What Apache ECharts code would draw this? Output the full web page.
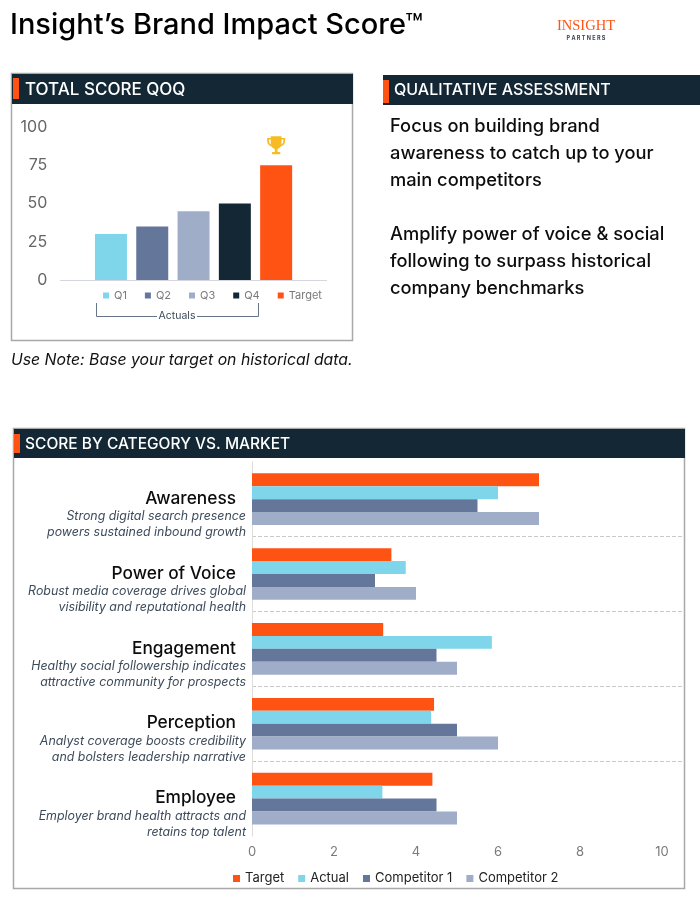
<!DOCTYPE html>
<html>
<head>
<meta charset="utf-8">
<title>Insight's Brand Impact Score</title>
<script src="https://cdn.jsdelivr.net/npm/echarts@6/dist/echarts.min.js"></script>
<style>
  html, body { margin: 0; padding: 0; background: #fff; }
  #main { width: 700px; height: 900px; }
</style>
</head>
<body>
<div id="main"></div>
<script>
//****************************** Data *************************************//
const quarterLabels = ["Q1", "Q2", "Q3", "Q4", "Target"];
const quarterScores = [30, 35, 45, 50, 75];

const categories = ["Awareness", "Power of Voice", "Engagement", "Perception", "Employee"];
const categoryNotes = [
  ["Strong digital search presence", "powers sustained inbound growth"],
  ["Robust media coverage drives global", "visibility and reputational health"],
  ["Healthy social followership indicates", "attractive community for prospects"],
  ["Analyst coverage boosts credibility", "and bolsters leadership narrative"],
  ["Employer brand health attracts and", "retains top talent"],
];
const marketSeriesNames = ["Target", "Actual", "Competitor 1", "Competitor 2"];
const targetValues = [7, 3.4, 3.2, 4.44, 4.4];
const actualValues = [6, 3.75, 5.85, 4.37, 3.18];
const competitor1Values = [5.5, 3, 4.5, 5, 4.5];
const competitor2Values = [7, 4, 5, 6, 5];

const assessmentLines = [
  "Focus on building brand",
  "awareness to catch up to your",
  "main competitors",
  "",
  "Amplify power of voice & social",
  "following to surpass historical",
  "company benchmarks",
];

//****************************** Colors *************************************//
const ORANGE = "#FF5314";
const CYAN = "#7FD6EA";
const SLATE = "#64779B";
const LIGHT = "#A0ADC8";
const NAVY = "#132735";
const FONT = "Inter, 'Open Sans', sans-serif";

const quarterColors = [CYAN, SLATE, LIGHT, NAVY, ORANGE];
const marketColors = [ORANGE, CYAN, SLATE, LIGHT];
const marketValues = [targetValues, actualValues, competitor1Values, competitor2Values];

const TROPHY =
  "path://M6 2H18V4H22V7C22 10.5 20 12.6 17 13.2C16.2 14.6 15 15.5 13.5 15.8V19H16.5V21.5H7.5V19H10.5V15.8C9 15.5 7.8 14.6 7 13.2C4 12.6 2 10.5 2 7V4H6V2Z" +
  "M4 5.5V7C4 9 5 10.4 6.3 11C6.1 10.2 6 9.4 6 8.5V5.5H4Z" +
  "M20 5.5H18V8.5C18 9.4 17.9 10.2 17.7 11C19 10.4 20 9 20 7V5.5Z";

//****************************** Graphic helpers *************************************//
function textEl(x, y, text, fontSize, fill, extra) {
  return {
    type: "text",
    x: x,
    y: y,
    silent: true,
    style: Object.assign(
      { text: text, fontSize: fontSize, fill: fill, fontFamily: FONT, verticalAlign: "middle" },
      extra || {}
    ),
  };
}

function rectEl(x, y, width, height, fill, stroke) {
  return {
    type: "rect",
    silent: true,
    shape: { x: x, y: y, width: width, height: height },
    style: { fill: fill, stroke: stroke || null, lineWidth: stroke ? 1.5 : 0 },
  };
}

function panelHeader(x, y, width, height, accentX, accentY, accentH, title, titleX, titleSize) {
  return [
    rectEl(x, y, width, height, NAVY),
    rectEl(accentX, accentY, 6, accentH, ORANGE),
    textEl(titleX, y + height / 2 + 0.5, title, titleSize, "#fff", { fontWeight: 500 }),
  ];
}

function bracketLine(points) {
  return {
    type: "polyline",
    silent: true,
    shape: { points: points },
    style: { fill: null, stroke: "#66758A", lineWidth: 1 },
  };
}

var graphics = [
  textEl(10, 25, "Insight\u2019s Brand Impact Score\u2122", 29, "#000", { fontWeight: 500 }),
  textEl(586, 26, "INSIGHT", 14.5, ORANGE, { fontFamily: "'Liberation Serif', serif", align: "center" }),
  textEl(586, 38, "P A R T N E R S", 5.5, "#3A4756", { fontWeight: 700, align: "center" }),

  rectEl(11.5, 73.5, 341, 267, "#fff", "#A8A8A8"),
  rectEl(13.5, 428.5, 671, 460, "#fff", "#A8A8A8"),

  bracketLine([[96.5, 303], [96.5, 316.5], [157, 316.5]]),
  bracketLine([[197, 316.5], [258.5, 316.5], [258.5, 303]]),
  textEl(177, 316, "Actuals", 10.5, "#3F4B5A", { align: "center" }),
  {
    type: "line",
    silent: true,
    z: 1,
    shape: { x1: 60, y1: 280.5, x2: 327, y2: 280.5 },
    style: { stroke: "#D5D7DC", lineWidth: 1 },
  },

  textEl(11, 360, "Use Note: Base your target on historical data.", 15.8, "#111", { fontStyle: "italic" }),
];

graphics = graphics.concat(
  panelHeader(12, 74, 341, 30, 13, 78, 21, "TOTAL SCORE QOQ", 25, 17),
  panelHeader(383, 75, 317, 30, 383, 80, 23, "QUALITATIVE ASSESSMENT", 394, 16),
  panelHeader(14, 429, 671, 29, 14, 434, 19, "SCORE BY CATEGORY VS. MARKET", 25, 15.5)
);

assessmentLines.forEach((line, i) => {
  if (line) {
    graphics.push(textEl(390, 127 + i * 27, line, 18.3, "#0C0C0C", { fontWeight: 500 }));
  }
});

//****************************** Series *************************************//
var quarterSeries = quarterLabels.map((label, i) => {
  var item = {
    name: label,
    type: "bar",
    stack: "score",
    barWidth: 32,
    xAxisIndex: 0,
    yAxisIndex: 0,
    itemStyle: { color: quarterColors[i] },
    data: quarterScores.map((v, j) => (j === i ? v : null)),
  };
  if (label === "Target") {
    item.markPoint = {
      silent: true,
      symbol: TROPHY,
      symbolSize: 18,
      symbolOffset: [0, -20],
      label: { show: false },
      itemStyle: { color: "#F7BC25" },
      data: [{ coord: [label, quarterScores[i]] }],
    };
  }
  return item;
});

var marketSeries = marketSeriesNames.map((name, i) => ({
  name: name,
  type: "bar",
  xAxisIndex: 1,
  yAxisIndex: 1,
  barGap: 0,
  barCategoryGap: "31%",
  itemStyle: { color: marketColors[i] },
  data: marketValues[i],
}));

//****************************** Chart *************************************//
var myChart = echarts.init(document.getElementById("main"));

var option = {
  animation: false,
  backgroundColor: "#fff",
  textStyle: { fontFamily: FONT },
  grid: [
    { left: 90.3, width: 206.5, top: 127, height: 153 },
    { left: 252, width: 430.5, top: 461.7, height: 374.3 },
  ],
  legend: [
    {
      data: quarterLabels,
      left: 103,
      top: 290,
      padding: 0,
      itemWidth: 6,
      itemHeight: 6,
      itemGap: 18,
      icon: "rect",
      selectedMode: false,
      textStyle: { fontSize: 11, color: "#7A7A7A", fontFamily: FONT },
    },
    {
      data: marketSeriesNames,
      left: 233,
      top: 872,
      padding: 0,
      itemWidth: 7,
      itemHeight: 7,
      itemGap: 14,
      icon: "rect",
      selectedMode: false,
      textStyle: { fontSize: 13, color: "#222", fontFamily: FONT },
    },
  ],
  xAxis: [
    {
      type: "category",
      gridIndex: 0,
      data: quarterLabels,
      axisLine: { show: false },
      axisTick: { show: false },
      axisLabel: { show: false },
    },
    {
      type: "value",
      gridIndex: 1,
      min: 0,
      max: 10.5,
      interval: 2,
      splitLine: { show: false },
      axisLine: { show: false },
      axisTick: { show: false },
      axisLabel: { showMaxLabel: false, margin: 10, fontSize: 13, color: "#7A7A7A", fontFamily: FONT },
    },
  ],
  yAxis: [
    {
      type: "value",
      gridIndex: 0,
      min: 0,
      max: 100,
      interval: 25,
      splitLine: { show: false },
      axisLine: { show: false },
      axisTick: { show: false },
      axisLabel: { margin: 43, fontSize: 16, color: "#666", fontFamily: FONT },
    },
    {
      type: "category",
      gridIndex: 1,
      inverse: true,
      data: categories,
      axisLine: { show: true, lineStyle: { color: "#DDDDDD", width: 1 } },
      axisTick: { show: false },
      splitLine: {
        show: true,
        showMinLine: false,
        showMaxLine: false,
        lineStyle: { type: "dashed", color: "#C9C9C9", width: 1 },
      },
      axisLabel: {
        interval: 0,
        margin: 6,
        align: "right",
        formatter: function (value, index) {
          var notes = categoryNotes[index];
          return `{gap| }\n{name|${value}}\n{note|${notes[0]}}\n{note|${notes[1]}}`;
        },
        rich: {
          gap: { height: 31, lineHeight: 31, fontSize: 1 },
          name: { fontSize: 17.3, fontWeight: 500, lineHeight: 20, color: "#0C0C0C", padding: [0, 10, 0, 0], fontFamily: FONT, align: "right" },
          note: { fontSize: 12.4, fontStyle: "italic", lineHeight: 16, color: "#3C4A5A", fontFamily: FONT, align: "right" },
        },
      },
    },
  ],
  series: quarterSeries.concat(marketSeries),
  graphic: { elements: graphics },
};

if (option && typeof option === "object") {
  myChart.setOption(option);
}
</script>
</body>
</html>
